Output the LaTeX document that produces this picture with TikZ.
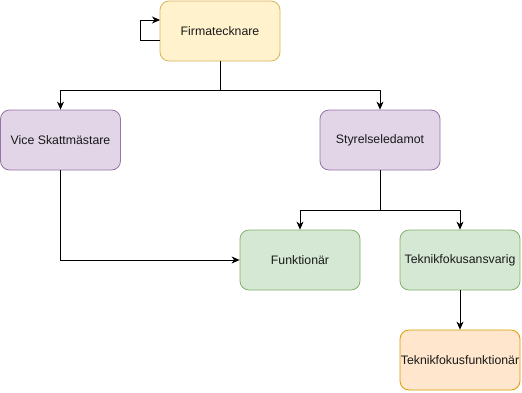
\documentclass[tikz,border=0pt]{standalone}
\usepackage{fontspec}
\setmainfont{Liberation Sans}
\usetikzlibrary{arrows.meta}
\definecolor{yelfill}{HTML}{FFF2CC}\definecolor{yelline}{HTML}{D6B656}
\definecolor{purfill}{HTML}{E1D5E7}\definecolor{purline}{HTML}{9673A6}
\definecolor{grnfill}{HTML}{D5E8D4}\definecolor{grnline}{HTML}{82B366}
\definecolor{orafill}{HTML}{FFE6CC}\definecolor{oraline}{HTML}{D79B00}
\begin{document}
\begin{tikzpicture}[x=1pt,y=-1pt,
  box/.style={rectangle,rounded corners=9pt,minimum width=120pt,minimum height=60pt,
    inner sep=0pt,line width=0.8pt,font=\fontsize{12.3}{14}\selectfont,text=black!90},
  yel/.style={box,fill=yelfill,draw=yelline},
  pur/.style={box,fill=purfill,draw=purline},
  grn/.style={box,fill=grnfill,draw=grnline},
  ora/.style={box,fill=orafill,draw=oraline},
  arr/.style={draw=black,line width=0.8pt,-{Stealth[length=8pt,width=7pt,inset=2.5pt]}}]
\useasboundingbox (0,0) rectangle (522,392);
\node[yel] (firma) at (220,31) {Firmatecknare};
\node[pur] (vice) at (60.5,140) {Vice Skattmästare};
\node[pur] (styr) at (380,140) {Styrelseledamot};
\node[grn] (funk) at (300,260) {Funktionär};
\node[grn] (tekn) at (460,260) {Teknikfokusansvarig};
\node[ora] (teknf) at (460,360) {Teknikfokusfunktionär};
% self loop on the left side
\coordinate (loopout) at (160,40);
\coordinate (loopin) at (160,20);
\draw[arr] (loopout) -- (140,40) |- (loopin);
% fork from the top
\draw[arr] (firma.south) -- ++(0,29) -| (vice.north);
\draw[arr] (firma.south) -- ++(0,29) -| (styr.north);
% second level
\draw[arr] (vice.south) |- (funk.west);
\draw[arr] (styr.south) -- ++(0,40) -| (funk.north);
\draw[arr] (styr.south) -- ++(0,40) -| (tekn.north);
\draw[arr] (tekn.south) -- (teknf.north);
\end{tikzpicture}
\end{document}
